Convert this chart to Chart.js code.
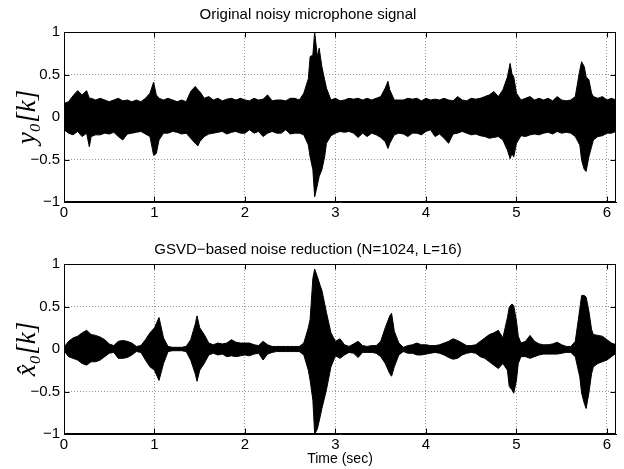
<!DOCTYPE html>
<html>
<head>
<meta charset="utf-8">
<script src="https://cdn.jsdelivr.net/npm/chart.js@4.4.0/dist/chart.umd.min.js"></script>
<style>
  body { margin: 0; background: #fff; }
  .panel { position: absolute; left: 0; }
</style>
</head>
<body>
<div class="panel" style="top:0"><canvas id="topChart" width="624" height="230"></canvas></div>
<div class="panel" style="top:230px"><canvas id="botChart" width="624" height="239"></canvas></div>
<script>
// envelope of the signals (upper / lower extent), time in seconds
const topTime = [
  0,0.05,0.1,0.15,0.2,0.25,0.28,0.3,0.35,0.4,
  0.45,0.5,0.55,0.6,0.65,0.7,0.75,0.8,0.85,0.9,
  0.95,0.99,1.02,1.05,1.1,1.15,1.2,1.25,1.3,1.35,
  1.4,1.45,1.48,1.5,1.55,1.6,1.65,1.7,1.75,1.8,
  1.85,1.9,1.95,2.0,2.05,2.1,2.15,2.2,2.25,2.3,
  2.35,2.4,2.45,2.5,2.55,2.6,2.65,2.7,2.72,2.75,
  2.77,2.8,2.82,2.85,2.88,2.9,2.95,3.0,3.05,3.1,
  3.15,3.2,3.25,3.3,3.35,3.4,3.45,3.5,3.55,3.58,
  3.6,3.65,3.7,3.75,3.8,3.85,3.9,3.95,4.0,4.05,
  4.1,4.15,4.2,4.25,4.3,4.35,4.4,4.45,4.5,4.55,
  4.6,4.65,4.7,4.75,4.8,4.85,4.9,4.93,4.95,4.97,
  5.0,5.05,5.1,5.15,5.2,5.25,5.3,5.35,5.4,5.45,
  5.5,5.55,5.6,5.65,5.7,5.72,5.75,5.77,5.8,5.83,
  5.85,5.9,5.95,6.0,6.05,6.1
];
const topUpper = [
  0.16,0.18,0.25,0.31,0.26,0.31,0.22,0.22,0.2,0.22,
  0.2,0.18,0.2,0.22,0.19,0.2,0.18,0.2,0.18,0.22,
  0.28,0.41,0.26,0.22,0.2,0.22,0.2,0.18,0.2,0.18,
  0.3,0.36,0.32,0.3,0.22,0.24,0.2,0.22,0.19,0.21,
  0.22,0.2,0.22,0.2,0.19,0.22,0.2,0.21,0.26,0.19,
  0.2,0.2,0.19,0.22,0.22,0.2,0.28,0.45,0.71,0.73,
  1.0,0.71,0.81,0.59,0.44,0.34,0.2,0.22,0.19,0.2,
  0.22,0.21,0.22,0.2,0.22,0.2,0.22,0.24,0.34,0.42,
  0.32,0.2,0.2,0.2,0.22,0.21,0.22,0.19,0.22,0.2,
  0.21,0.2,0.22,0.2,0.19,0.24,0.2,0.19,0.22,0.21,
  0.22,0.24,0.26,0.3,0.24,0.32,0.47,0.63,0.51,0.47,
  0.28,0.2,0.22,0.24,0.2,0.22,0.2,0.22,0.19,0.24,
  0.2,0.19,0.2,0.24,0.55,0.65,0.59,0.47,0.44,0.28,
  0.24,0.22,0.24,0.2,0.22,0.2
];
const topLower = [
  -0.15,-0.19,-0.21,-0.17,-0.23,-0.19,-0.35,-0.23,-0.21,-0.21,
  -0.19,-0.2,-0.18,-0.23,-0.27,-0.2,-0.19,-0.18,-0.17,-0.2,
  -0.23,-0.45,-0.43,-0.27,-0.19,-0.19,-0.17,-0.18,-0.2,-0.19,
  -0.25,-0.31,-0.34,-0.29,-0.23,-0.2,-0.19,-0.18,-0.17,-0.2,
  -0.18,-0.17,-0.19,-0.19,-0.15,-0.19,-0.17,-0.23,-0.19,-0.17,
  -0.19,-0.19,-0.15,-0.2,-0.19,-0.19,-0.21,-0.33,-0.47,-0.62,
  -0.94,-0.8,-0.7,-0.62,-0.47,-0.31,-0.22,-0.19,-0.17,-0.18,
  -0.17,-0.19,-0.24,-0.19,-0.23,-0.19,-0.21,-0.24,-0.29,-0.37,
  -0.31,-0.21,-0.19,-0.2,-0.23,-0.19,-0.19,-0.21,-0.17,-0.15,
  -0.23,-0.2,-0.25,-0.31,-0.2,-0.19,-0.17,-0.19,-0.21,-0.2,
  -0.22,-0.23,-0.25,-0.24,-0.23,-0.27,-0.39,-0.49,-0.43,-0.47,
  -0.31,-0.22,-0.23,-0.21,-0.2,-0.21,-0.19,-0.18,-0.2,-0.17,
  -0.19,-0.18,-0.19,-0.23,-0.33,-0.51,-0.62,-0.64,-0.47,-0.35,
  -0.27,-0.23,-0.22,-0.19,-0.19,-0.17
];

const botTime = [
  0,0.05,0.1,0.15,0.2,0.25,0.3,0.35,0.4,0.45,
  0.5,0.55,0.6,0.65,0.7,0.75,0.8,0.85,0.9,0.95,
  1.0,1.05,1.1,1.15,1.2,1.25,1.3,1.35,1.4,1.45,
  1.47,1.5,1.55,1.6,1.65,1.7,1.75,1.8,1.85,1.9,
  1.95,2.0,2.05,2.1,2.15,2.2,2.25,2.3,2.35,2.4,
  2.45,2.5,2.55,2.6,2.65,2.7,2.72,2.75,2.77,2.8,
  2.83,2.85,2.9,2.95,3.0,3.05,3.1,3.15,3.2,3.25,
  3.3,3.35,3.4,3.45,3.5,3.55,3.6,3.62,3.65,3.7,
  3.75,3.8,3.85,3.9,3.95,4.0,4.05,4.1,4.15,4.2,
  4.25,4.3,4.35,4.4,4.45,4.5,4.55,4.6,4.65,4.7,
  4.75,4.8,4.85,4.9,4.92,4.95,4.97,5.0,5.02,5.05,
  5.1,5.15,5.2,5.25,5.3,5.35,5.4,5.45,5.5,5.55,
  5.6,5.65,5.7,5.72,5.75,5.77,5.8,5.83,5.85,5.9,
  5.95,6.0,6.05,6.1
];
const botUpper = [
  0.02,0.09,0.13,0.15,0.19,0.22,0.17,0.16,0.14,0.11,
  0.06,0.04,0.09,0.1,0.09,0.07,0.03,0.04,0.11,0.19,
  0.25,0.37,0.13,0.03,0.02,0.02,0.02,0.03,0.11,0.29,
  0.39,0.25,0.17,0.07,0.05,0.07,0.06,0.07,0.11,0.08,
  0.07,0.07,0.07,0.05,0.04,0.09,0.05,0.03,0.03,0.03,
  0.03,0.03,0.03,0.03,0.07,0.25,0.35,0.83,0.94,0.85,
  0.75,0.69,0.43,0.19,0.09,0.12,0.05,0.03,0.06,0.09,
  0.04,0.03,0.04,0.04,0.09,0.25,0.39,0.42,0.21,0.07,
  0.02,0.04,0.05,0.07,0.05,0.05,0.04,0.04,0.05,0.07,
  0.09,0.12,0.1,0.07,0.04,0.04,0.05,0.09,0.13,0.17,
  0.19,0.22,0.13,0.37,0.49,0.53,0.51,0.33,0.15,0.07,
  0.09,0.16,0.09,0.06,0.05,0.05,0.06,0.08,0.05,0.03,
  0.03,0.09,0.47,0.63,0.63,0.61,0.45,0.23,0.17,0.16,
  0.15,0.11,0.07,0.05
];
const botLower = [
  -0.02,-0.09,-0.11,-0.13,-0.17,-0.19,-0.15,-0.15,-0.13,-0.09,
  -0.05,-0.04,-0.11,-0.11,-0.1,-0.07,-0.03,-0.04,-0.13,-0.21,
  -0.25,-0.37,-0.17,-0.03,-0.02,-0.02,-0.02,-0.03,-0.13,-0.29,
  -0.38,-0.25,-0.17,-0.07,-0.05,-0.07,-0.06,-0.09,-0.08,-0.09,
  -0.08,-0.07,-0.08,-0.06,-0.05,-0.13,-0.06,-0.04,-0.03,-0.03,
  -0.03,-0.03,-0.03,-0.03,-0.07,-0.25,-0.37,-0.6,-1.0,-0.94,
  -0.8,-0.7,-0.48,-0.21,-0.08,-0.11,-0.07,-0.04,-0.05,-0.1,
  -0.04,-0.04,-0.04,-0.05,-0.09,-0.17,-0.29,-0.32,-0.21,-0.07,
  -0.03,-0.05,-0.05,-0.07,-0.07,-0.06,-0.05,-0.04,-0.05,-0.07,
  -0.1,-0.12,-0.11,-0.07,-0.05,-0.04,-0.05,-0.09,-0.11,-0.15,
  -0.19,-0.23,-0.17,-0.25,-0.44,-0.48,-0.52,-0.37,-0.17,-0.09,
  -0.09,-0.11,-0.09,-0.07,-0.06,-0.06,-0.06,-0.06,-0.05,-0.04,
  -0.04,-0.09,-0.33,-0.52,-0.64,-0.7,-0.52,-0.29,-0.21,-0.17,
  -0.15,-0.13,-0.09,-0.05
];

const X_MIN = 0, X_MAX = 6.1;
const Y_MIN = -1, Y_MAX = 1;
const FONT = "'Liberation Sans', Arial, sans-serif";

// box round the plot area + inward tick marks on all four sides (matlab look)
const boxPlugin = {
  id: 'box',
  afterDraw(chart) {
    const {ctx, chartArea: a, scales} = chart;
    const L = Math.round(a.left) + 0.5, R = Math.round(a.right) - 0.5;
    const T = Math.round(a.top) + 0.5, B = Math.round(a.bottom) - 0.5;
    ctx.save();
    ctx.strokeStyle = '#000';
    ctx.lineWidth = 1;
    ctx.strokeRect(L, T, R - L, B - T);
    ctx.beginPath();
    scales.x.ticks.forEach(t => {
      const px = Math.round(scales.x.getPixelForValue(t.value)) + 0.5;
      ctx.moveTo(px, B); ctx.lineTo(px, B - 5);
      ctx.moveTo(px, T); ctx.lineTo(px, T + 5);
    });
    scales.y.ticks.forEach(t => {
      const py = Math.round(scales.y.getPixelForValue(t.value)) + 0.5;
      ctx.moveTo(L, py); ctx.lineTo(L + 5, py);
      ctx.moveTo(R, py); ctx.lineTo(R - 5, py);
    });
    ctx.stroke();
    ctx.restore();
  }
};

const makeChart = (id, title, yLabel, times, upper, lower, o) => {
  const ctx = document.getElementById(id).getContext('2d');
  return new Chart(ctx, {
    type: 'line',
    data: {
      datasets: [
        {
          data: times.map((t, i) => ({x: t, y: upper[i]})),
          borderColor: '#000', backgroundColor: '#000',
          borderWidth: 1, pointRadius: 0, fill: false
        },
        {
          data: times.map((t, i) => ({x: t, y: lower[i]})),
          borderColor: '#000', backgroundColor: '#000',
          borderWidth: 1, pointRadius: 0, fill: '-1'
        }
      ]
    },
    options: {
      responsive: false,
      animation: false,
      devicePixelRatio: 1,
      layout: { padding: { left: 0, right: 8, top: 0, bottom: 0 } },
      plugins: {
        legend: { display: false },
        tooltip: { enabled: false },
        title: {
          display: true,
          text: title,
          color: '#000',
          font: { family: FONT, size: 15, weight: 'normal' },
          padding: o.titlePad
        }
      },
      scales: {
        x: {
          type: 'linear',
          min: X_MIN, max: X_MAX,
          afterFit: s => { s.height = o.xHeight; },
          ticks: { stepSize: 1, includeBounds: false, color: '#000', padding: 2, maxRotation: 0,
                   font: { family: FONT, size: 15 } },
          grid: { color: '#9a9a9a', drawTicks: false },
          border: { color: '#000', dash: [1, 2] },
          title: {
            display: o.xTitle !== '',
            text: o.xTitle,
            color: '#000',
            font: { family: FONT, size: 14 },
            padding: { top: 0, bottom: 1 }
          }
        },
        y: {
          min: Y_MIN, max: Y_MAX,
          afterFit: s => { s.width = 64; },
          ticks: { stepSize: 0.5, color: '#000', padding: 4,
                   font: { family: FONT, size: 15 },
                   callback: v => String(v).replace('-', '\u2212') },
          grid: { color: '#9a9a9a', drawTicks: false },
          border: { color: '#000', dash: [1, 2] },
          title: {
            display: true,
            text: yLabel,
            color: '#000',
            font: { family: "'Liberation Serif', 'DejaVu Serif', serif", size: 27, style: 'italic' },
            padding: { top: 12, bottom: 0 }
          }
        }
      }
    },
    plugins: [boxPlugin]
  });
};

const setup = () => {
  makeChart('topChart', 'Original noisy microphone signal', 'y\u2080[k]',
    topTime, topUpper, topLower,
    { titlePad: { top: 6, bottom: 8 }, xHeight: 28, xTitle: '' });
  makeChart('botChart', 'GSVD\u2212based noise reduction (N=1024, L=16)', 'x\u0302\u2080[k]',
    botTime, botUpper, botLower,
    { titlePad: { top: 11, bottom: 5 }, xHeight: 35, xTitle: 'Time (sec)' });
};

window.addEventListener('DOMContentLoaded', setup);
</script>
</body>
</html>
